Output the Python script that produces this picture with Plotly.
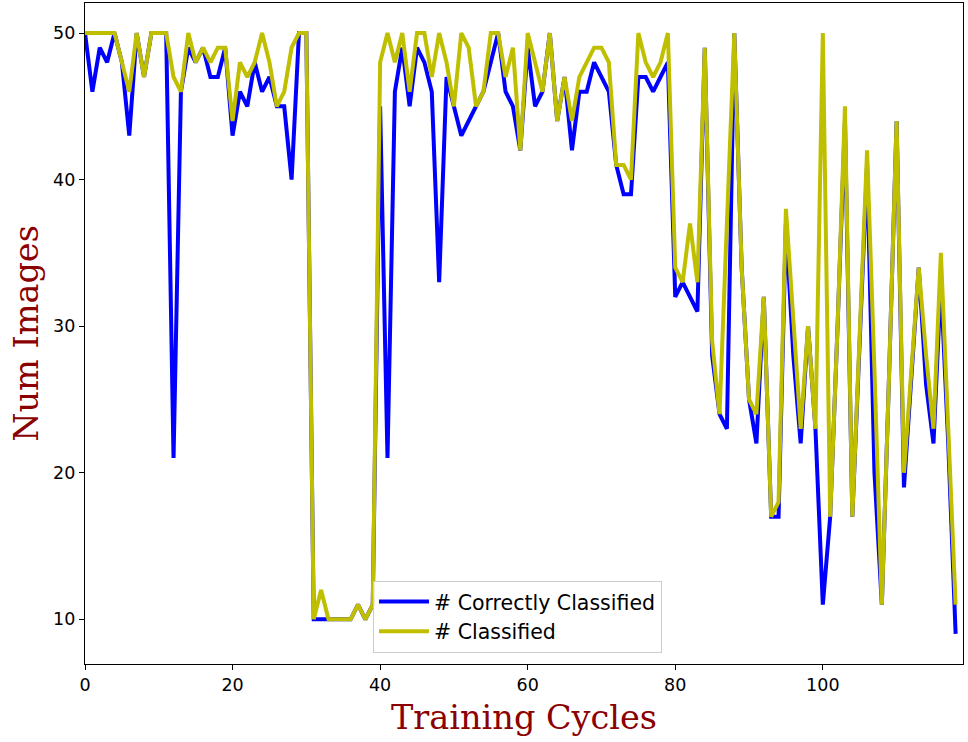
import plotly.graph_objects as go

cycles = list(range(119))

correct = [
    50, 46, 49, 48, 50, 48, 43, 50, 47, 50,
    50, 50, 21, 46, 49, 48, 49, 47, 47, 49,
    43, 46, 45, 48, 46, 47, 45, 45, 40, 50,
    50, 10, 10, 10, 10, 10, 10, 11, 10, 11,
    45, 21, 46, 49, 45, 49, 48, 46, 33, 47,
    45, 43, 44, 45, 46, 48, 50, 46, 45, 42,
    49, 45, 46, 50, 44, 47, 42, 46, 46, 48,
    47, 46, 41, 39, 39, 47, 47, 46, 47, 48,
    32, 33, 32, 31, 49, 28, 24, 23, 50, 34,
    25, 22, 32, 17, 17, 37, 28, 22, 30, 23,
    11, 17, 30, 44, 17, 29, 41, 20, 11, 27,
    44, 19, 27, 34, 26, 22, 33, 22, 9,
]

classified = [
    50, 50, 50, 50, 50, 48, 46, 50, 47, 50,
    50, 50, 47, 46, 50, 48, 49, 48, 49, 49,
    44, 48, 47, 48, 50, 48, 45, 46, 49, 50,
    50, 10, 12, 10, 10, 10, 10, 11, 10, 11,
    48, 50, 48, 50, 46, 50, 50, 47, 50, 48,
    45, 50, 49, 45, 46, 50, 50, 47, 49, 42,
    50, 48, 46, 50, 44, 47, 44, 47, 48, 49,
    49, 48, 41, 41, 40, 50, 48, 47, 48, 50,
    34, 33, 37, 33, 49, 29, 24, 37, 50, 34,
    25, 24, 32, 17, 18, 38, 30, 23, 30, 23,
    50, 17, 30, 45, 17, 30, 42, 27, 11, 27,
    44, 20, 27, 34, 28, 23, 35, 23, 11,
]

x_ticks = [0, 20, 40, 60, 80, 100]
y_ticks = [10, 20, 30, 40, 50]

fig = go.Figure()
fig.add_trace(go.Scatter(x=cycles, y=correct, mode="lines", name="# Correctly Classified",
                         line=dict(color="#0000FF", width=4)))
fig.add_trace(go.Scatter(x=cycles, y=classified, mode="lines", name="# Classified",
                         line=dict(color="#BFBF00", width=4)))

lo, hi = min(correct + classified), max(correct + classified)
pad = (hi - lo) * 0.05

axis_common = dict(showline=True, linecolor="black", linewidth=1.2, mirror=True,
                   ticks="outside", ticklen=5, tickwidth=1.2, tickcolor="black",
                   showgrid=False, zeroline=False,
                   tickfont=dict(family="DejaVu Sans", size=17.5, color="black"))

fig.update_layout(
    width=968, height=742,
    margin=dict(l=85, r=5, t=3, b=78),
    paper_bgcolor="white", plot_bgcolor="white",
    xaxis=dict(range=[0, 119], tickvals=x_ticks,
               title=dict(text="Training Cycles", standoff=11,
                          font=dict(family="DejaVu Serif", size=33.5, color="#8B0000")),
               **axis_common),
    yaxis=dict(range=[lo - pad, hi + pad], tickvals=y_ticks,
               title=dict(text="Num Images", standoff=4,
                          font=dict(family="DejaVu Serif", size=33.5, color="#8B0000")),
               **axis_common),
    legend=dict(x=0.328, y=0.017, xanchor="left", yanchor="bottom",
                bgcolor="rgba(255,255,255,0.8)", bordercolor="#CCCCCC", borderwidth=1,
                font=dict(family="DejaVu Sans", size=20.5, color="black"),
                itemwidth=50, tracegroupgap=0),
    showlegend=True,
)

fig.write_html("out.html")
